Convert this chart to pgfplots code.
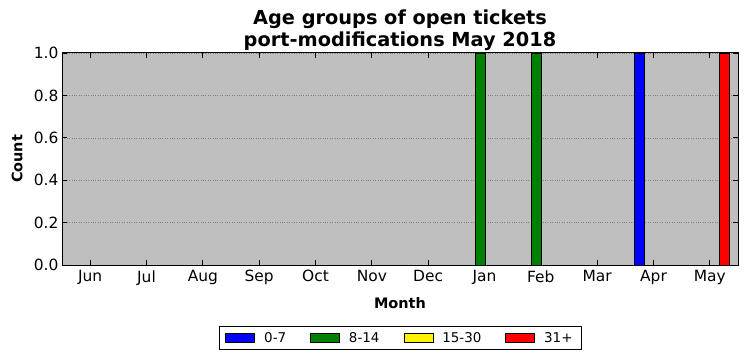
\documentclass[border=0pt]{standalone}
\usepackage{fontspec}
\setmainfont{DejaVu Sans}
\usepackage{pgfplots}
\pgfplotsset{compat=1.18}
\definecolor{bg}{gray}{0.75}
\definecolor{mgreen}{RGB}{0,128,0}
\pgfplotsset{
  mybar/.style={ybar, bar shift=0pt, bar width=0.178, draw=black, line width=0.8bp,
    legend image code/.code={\draw[##1,line width=0.8bp] (0bp,-4.5bp) rectangle (29bp,4.5bp);}},
}
\begin{document}
\begin{tikzpicture}
\useasboundingbox (0,0) rectangle (747bp,361bp);
\begin{axis}[
  at={(62bp,96bp)}, anchor=south west,
  width=676bp, height=212bp, scale only axis,
  xmin=-0.5, xmax=11.5, ymin=0, ymax=1,
  axis background/.style={fill=bg},
  xtick={0,1,2,3,4,5,6,7,8,9,10,11},
  xticklabels={Jun,Jul,Aug,Sep,Oct,Nov,Dec,Jan,Feb,Mar,Apr,May},
  ytick={0,0.2,0.4,0.6,0.8,1},
  yticklabel style={/pgf/number format/fixed, /pgf/number format/fixed zerofill, /pgf/number format/precision=1},
  /pgf/number format/assume math mode=true,
  tick align=inside,
  major tick length=5bp,
  tick style={black, line width=0.8bp},
  axis line style={line width=1bp},
  ymajorgrids,
  grid style={dotted, black!50, line width=0.5bp},
  tick label style={font=\fontsize{15.5}{18}\selectfont},
  xticklabel style={yshift=-2bp},
  every axis y label/.style={at={(axis description cs:0,0.5)}, rotate=90, anchor=center, yshift=45bp},
  every axis x label/.style={at={(axis description cs:0.5,0)}, anchor=center, yshift=-38bp},
  label style={font=\bfseries\fontsize{14.5}{17}\selectfont},
  every axis title/.style={at={(axis description cs:0.5,1)}, anchor=south, align=center, inner sep=0pt, yshift=2bp, font=\bfseries\fontsize{19.4}{22}\selectfont},
  title={Age groups of open tickets\\port-modifications May 2018},
  xlabel={Month},
  ylabel={Count},
  legend columns=4,
  legend style={at={(0.5,-0.344)}, anchor=center, draw=black, line width=0.8bp,
    font=\fontsize{13.5}{15}\selectfont, inner xsep=6.5bp, inner ysep=4bp,
    /tikz/every odd column/.append style={column sep=7bp},
    /tikz/every even column/.append style={column sep=22bp}},
]
\addplot[mybar, fill=blue] coordinates {(9.75,1)};
\addlegendentry{0-7}
\addplot[mybar, fill=mgreen] coordinates {(6.93,1) (7.92,1)};
\addlegendentry{8-14}
\addlegendimage{mybar, fill=yellow}
\addlegendentry{15-30}
\addplot[mybar, fill=red] coordinates {(11.26,1)};
\addlegendentry{31+}
\end{axis}
\end{tikzpicture}
\end{document}
